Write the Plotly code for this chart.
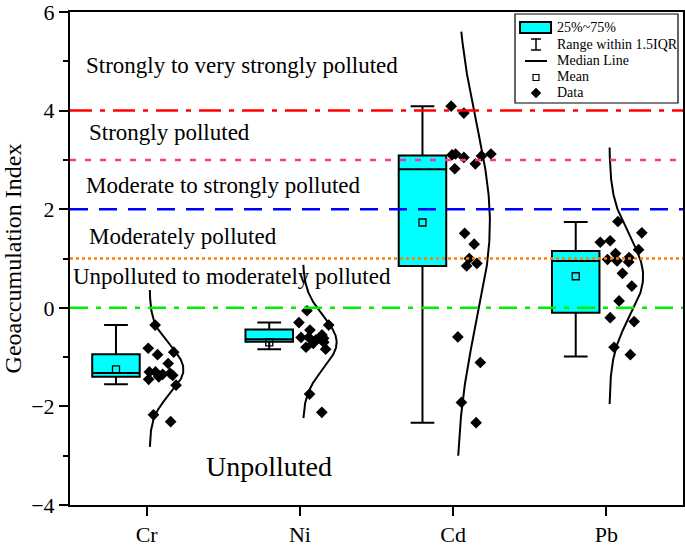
import numpy as np
import plotly.graph_objects as go

# ---------------- data ----------------
categories = ["Cr", "Ni", "Cd", "Pb"]

cr_values = [-0.35, -0.82, -0.90, -0.95, -1.13, -1.30, -1.33, -1.37, -1.40, -1.35,
             -1.30, -1.45, -1.57, -2.17, -2.31]
ni_values = [-0.06, -0.30, -0.35, -0.45, -0.55, -0.60, -0.60, -0.62, -0.65, -0.70,
             -0.72, -0.80, -0.84, -1.75, -2.12]
cd_values = [4.09, 3.95, 3.12, 3.05, 3.10, 3.12, 3.08, 2.92, 2.82, 1.51, 1.29, 1.00,
             0.90, 0.85, -0.59, -1.11, -1.92, -2.33]
pb_values = [1.75, 1.52, 1.36, 1.33, 1.18, 1.10, 1.02, 0.98, 0.95, 0.93, 0.70, 0.44,
             0.14, -0.20, -0.28, -0.80, -0.95]

# box statistics
q1 = [-1.40, -0.69, 0.85, -0.10]
median = [-1.32, -0.64, 2.81, 0.95]
q3 = [-0.94, -0.44, 3.09, 1.15]
lower_fence = [-1.55, -0.84, -2.33, -0.99]
upper_fence = [-0.35, -0.30, 4.09, 1.74]
means = [-1.25, -0.70, 1.73, 0.64]

# span of the normal distribution curves
curve_lo = [-2.82, -2.24, -3.00, -1.95]
curve_hi = [0.36, 0.87, 5.60, 3.25]

# pollution class thresholds and labels
threshold_values = [4, 3, 2, 1, 0]
threshold_colors = ["#ff0000", "#ff3399", "#0000ff", "#ff8000", "#00ee00"]
threshold_dash = ["22px,8px,5px,8px", "6px,9px", "18px,11px", "3px,3px", "18px,8px,5px,8px"]

class_labels = ["Strongly to very strongly polluted", "Strongly polluted",
                "Moderate to strongly polluted", "Moderately polluted",
                "Unpolluted to moderately polluted", "Unpolluted"]
class_label_y = [4.92, 3.55, 2.49, 1.45, 0.63, -3.21]
class_label_x = [0.59, 0.61, 0.59, 0.61, 0.505, 1.80]

all_values = [cr_values, ni_values, cd_values, pb_values]

# ---------------- figure ----------------
FONT = "Liberation Serif, Times New Roman, serif"
pos = np.arange(1, len(categories) + 1, dtype=float)
box_shift = -0.2

fig = go.Figure()

# boxes
fig.add_trace(go.Box(
    x=list(pos + box_shift), q1=q1, median=median, q3=q3,
    lowerfence=lower_fence, upperfence=upper_fence,
    width=0.31, whiskerwidth=0.5, boxpoints=False,
    fillcolor="#00ffff", line=dict(color="black", width=2),
    showlegend=False, hoverinfo="skip"))

# means
fig.add_trace(go.Scatter(
    x=list(pos + box_shift), y=means, mode="markers",
    marker=dict(symbol="square-open", size=7, color="black", line=dict(width=1.3)),
    showlegend=False))

# jittered data points
for i, vals in enumerate(all_values):
    fig.add_trace(go.Box(
        x=[pos[i]] * len(vals), y=vals, width=0.32,
        boxpoints="all", jitter=1.0, pointpos=0.68,
        fillcolor="rgba(0,0,0,0)", line=dict(color="rgba(0,0,0,0)", width=0),
        marker=dict(symbol="diamond", size=9, color="black"),
        showlegend=False))

# normal distribution curves
for i, vals in enumerate(all_values):
    sd = np.std(vals, ddof=1)
    yy = np.linspace(curve_lo[i], curve_hi[i], 200)
    pdf = np.exp(-0.5 * ((yy - means[i]) / sd) ** 2)
    xx = pos[i] + 0.02 + 0.22 * pdf / pdf.max()
    fig.add_trace(go.Scatter(x=xx, y=yy, mode="lines",
                             line=dict(color="black", width=2),
                             showlegend=False, hoverinfo="skip"))

# thresholds
for v, c, d in zip(threshold_values, threshold_colors, threshold_dash):
    fig.add_shape(type="line", xref="paper", x0=0, x1=1, yref="y", y0=v, y1=v,
                  line=dict(color=c, width=2.5, dash=d), layer="above")

# class labels
for t, x, y in zip(class_labels, class_label_x, class_label_y):
    big = t == "Unpolluted"
    fig.add_annotation(x=x, y=y, xref="x", yref="y", text=t, showarrow=False,
                       xanchor="center" if big else "left", yanchor="middle",
                       font=dict(family=FONT, size=28 if big else 23, color="black"))

# ---------------- manual legend ----------------
L, R, T, B = 70, 683, 12, 505
def PX(px):
    return (px - L) / (R - L)
def PY(py):
    return (B - py) / (B - T)

fig.add_shape(type="rect", xref="paper", yref="paper",
              x0=PX(515), x1=PX(678), y0=PY(103), y1=PY(14),
              line=dict(color="black", width=1.2), fillcolor="white", layer="above")
fig.add_shape(type="rect", xref="paper", yref="paper",
              x0=PX(520), x1=PX(551), y0=PY(33), y1=PY(22),
              line=dict(color="black", width=2), fillcolor="#00ffff", layer="above")
fig.add_shape(type="line", xref="paper", yref="paper",
              x0=PX(536), x1=PX(536), y0=PY(50), y1=PY(39),
              line=dict(color="black", width=1.5), layer="above")
for yy in (39, 50):
    fig.add_shape(type="line", xref="paper", yref="paper",
                  x0=PX(531), x1=PX(541), y0=PY(yy), y1=PY(yy),
                  line=dict(color="black", width=1.5), layer="above")
fig.add_shape(type="line", xref="paper", yref="paper",
              x0=PX(525), x1=PX(547), y0=PY(61), y1=PY(61),
              line=dict(color="black", width=2), layer="above")
fig.add_shape(type="rect", xref="paper", yref="paper",
              x0=PX(533), x1=PX(539), y0=PY(80.5), y1=PY(74.5),
              line=dict(color="black", width=1.2), fillcolor="white", layer="above")
cx, cy, h = 536, 93, 5
fig.add_shape(type="path", xref="paper", yref="paper",
              path=f"M {PX(cx)},{PY(cy-h)} L {PX(cx+h)},{PY(cy)} L {PX(cx)},{PY(cy+h)} L {PX(cx-h)},{PY(cy)} Z",
              line=dict(color="black", width=0.5), fillcolor="black", layer="above")
legend_texts = ["25%~75%", "Range within 1.5IQR", "Median Line", "Mean", "Data"]
legend_ys = [27, 44, 61, 77, 93]
for t, yy in zip(legend_texts, legend_ys):
    fig.add_annotation(x=PX(555), y=PY(yy), xref="paper", yref="paper", text=t,
                       showarrow=False, xanchor="left", yanchor="middle",
                       font=dict(family=FONT, size=14, color="black"))

fig.update_layout(
    width=685, height=547,
    margin=dict(l=L, r=685 - R, t=T, b=547 - B, autoexpand=False),
    plot_bgcolor="white", paper_bgcolor="white",
    boxmode="overlay",
    font=dict(family=FONT, color="black"),
    xaxis=dict(range=[0.5, 4.5], tickvals=list(pos), ticktext=categories,
               showgrid=False, zeroline=False, showline=True, linecolor="black",
               linewidth=2, mirror=True, ticks="outside", ticklen=9, tickwidth=2,
               tickcolor="black", tickfont=dict(family=FONT, size=22),
               ticklabeloverflow="allow"),
    yaxis=dict(range=[-4, 6], dtick=2, showgrid=False, zeroline=False,
               showline=True, linecolor="black", linewidth=2, mirror=True,
               ticks="outside", ticklen=9, tickwidth=2, tickcolor="black",
               minor=dict(dtick=1, ticks="outside", ticklen=5, tickwidth=2, tickcolor="black"),
               tickfont=dict(family=FONT, size=22), ticklabeloverflow="allow",
               title=dict(text="Geoaccumulation Index", font=dict(family=FONT, size=24),
                          standoff=8)),
)

fig.write_html("out.html", config={"displayModeBar": False},
               post_script="document.body.style.margin='0px';document.body.style.overflow='hidden';")
